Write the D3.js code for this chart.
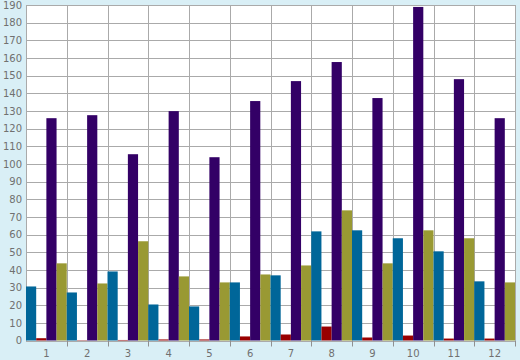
<!DOCTYPE html>
<html><head><meta charset="utf-8">
<script src="https://cdn.jsdelivr.net/npm/d3@7"></script>
<style>
html,body{margin:0;padding:0;background:#d9eff6;}
svg{display:block;}
text{font-family:"DejaVu Sans",Verdana,sans-serif;font-size:10px;fill:#707070;}
</style></head>
<body><svg id="c" width="520" height="360"></svg>
<script>
const categories = ["1","2","3","4","5","6","7","8","9","10","11","12"];
const seriesNames = ["A","B","C","D"];
const seriesColors = ["#006699","#990000","#330066","#999933"];
const blueVals   = [30.6, 27.2, 39.1, 20.4, 19.3, 32.9, 36.9, 61.8, 62.4, 57.9, 50.5, 33.5];
const redVals    = [1.3, 0.2, 0.3, 0.6, 0.6, 2.3, 3.4, 7.9, 1.7, 2.8, 1.1, 1.1];
const purpleVals = [125.9, 127.6, 105.5, 129.9, 103.8, 135.6, 146.9, 157.7, 137.3, 188.9, 148.0, 125.9];
const oliveVals  = [43.7, 32.3, 56.2, 36.3, 32.9, 37.4, 42.5, 73.7, 43.7, 62.4, 57.9, 32.9];
const yTicks = d3.range(0, 191, 10);

const series = [blueVals, redVals, purpleVals, oliveVals];
const svg = d3.select("#c");
const L = 26, R = 515, T = 5, B = 340.5;

const x0 = d3.scaleBand().domain(categories).range([L, R]).padding(0);
const x1 = d3.scaleBand().domain(seriesNames).range([0, x0.bandwidth()]).padding(0);
const y = d3.scaleLinear().domain([0, 190]).range([B, T]);

svg.append("rect").attr("x", L).attr("y", T).attr("width", R - L).attr("height", B - T).attr("fill", "#ffffff");

// horizontal grid
svg.append("g").selectAll("line").data(yTicks).join("line")
  .attr("x1", L).attr("x2", R)
  .attr("y1", d => Math.round(y(d)) + 0.5).attr("y2", d => Math.round(y(d)) + 0.5)
  .attr("stroke", "#aaaaaa").attr("stroke-width", 1);

// vertical grid
const bounds = categories.map(c => x0(c)).concat([R]);
svg.append("g").selectAll("line").data(bounds).join("line")
  .attr("x1", d => Math.round(d) + 0.5).attr("x2", d => Math.round(d) + 0.5)
  .attr("y1", T).attr("y2", B)
  .attr("stroke", "#aaaaaa").attr("stroke-width", 1);

// bars
const g = svg.append("g");
categories.forEach((c, i) => {
  series.forEach((s, j) => {
    g.append("rect")
      .attr("x", x0(c) + x1(seriesNames[j]))
      .attr("width", x1.bandwidth())
      .attr("y", y(s[i]))
      .attr("height", y(0) - y(s[i]))
      .attr("fill", seriesColors[j]);
  });
});

// y axis labels
const yAxis = d3.axisLeft(y).tickValues(yTicks).tickSize(0).tickPadding(4);
const ya = svg.append("g").attr("transform", `translate(${L},0)`).call(yAxis);
ya.select(".domain").remove();
ya.selectAll("text").style("font-family", "'DejaVu Sans',Verdana,sans-serif").style("font-size", "10px").attr("fill", "#707070");

// x axis
const xAxis = d3.axisBottom(x0).tickSize(0).tickPadding(9);
const xa = svg.append("g").attr("transform", `translate(0,${B})`).call(xAxis);
xa.select(".domain").remove();
xa.selectAll("text").style("font-family", "'DejaVu Sans',Verdana,sans-serif").style("font-size", "10px").attr("fill", "#707070");

// x tick marks at group boundaries
svg.append("g").selectAll("line").data(bounds.slice(1)).join("line")
  .attr("x1", d => Math.round(d) + 0.5).attr("x2", d => Math.round(d) + 0.5)
  .attr("y1", B).attr("y2", B + 6)
  .attr("stroke", "#909090").attr("stroke-width", 1);
</script></body></html>
